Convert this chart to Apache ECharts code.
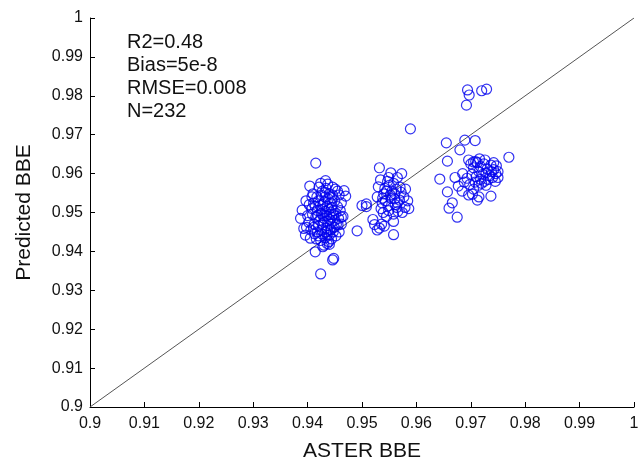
<!DOCTYPE html>
<html>
<head>
<meta charset="utf-8">
<script src="https://cdn.jsdelivr.net/npm/echarts@6/dist/echarts.min.js"></script>
<style>html,body{margin:0;padding:0;background:#fff}#c{width:638px;height:465px}</style>
</head>
<body>
<div id="c"></div>
<script>
// ASTER BBE (x) vs Predicted BBE (y)
var asterBBE = [
0.9415,0.9404,0.9437,0.9451,0.9467,0.9470,0.9410,0.9411,0.9390,0.9387,0.9393,0.9396,0.9405,0.9414,0.9430,0.9436,0.9448,0.9446,0.9424,0.9491,
0.9420,0.9425,0.9432,0.9440,0.9445,0.9428,0.9436,0.9442,0.9450,0.9455,0.9418,0.9425,0.9433,0.9440,0.9447,0.9452,0.9460,0.9415,0.9422,0.9430,
0.9437,0.9444,0.9450,0.9457,0.9412,0.9420,0.9428,0.9435,0.9442,0.9449,0.9456,0.9418,0.9426,0.9433,0.9440,0.9447,0.9416,0.9424,0.9432,0.9439,
0.9406,0.9402,0.9400,0.9408,0.9403,0.9458,0.9462,0.9465,0.9462,0.9458,0.9452,0.9444,0.9427,0.9434,0.9446,0.9421,0.9438,0.9431,0.9427,0.9439,
0.9444,0.9435,0.9430,0.9441,0.9426,0.9437,0.9414,0.9417,0.9409,0.9411,0.9420,0.9436,0.9429,0.9448,0.9453,0.9443,0.9423,0.9446,0.9432,0.9419,
0.9413,0.9398,0.9440,0.9428,0.9455,0.9433,0.9424,0.9408,0.9397,0.9462,
0.9589,0.9532,0.9553,0.9573,0.9534,0.9549,0.9565,0.9530,0.9542,0.9550,0.9558,0.9545,0.9555,0.9563,0.9570,0.9540,0.9552,0.9560,0.9508,0.9508,
0.9538,0.9554,0.9569,0.9584,0.9548,0.9564,0.9579,0.9539,0.9558,0.9574,0.9520,0.9523,0.9532,0.9558,0.9558,0.9545,0.9565,0.9577,0.9586,0.9528,
0.9536,0.9549,0.9566,0.9537,0.9543,0.9560,0.9572,0.9580,0.9500,0.9547,0.9528,0.9561,0.9535,0.9541,
0.9694,0.9697,0.9692,0.9720,0.9729,0.9655,0.9689,0.9708,0.9680,0.9657,0.9770,0.9696,0.9709,0.9643,0.9671,0.9685,0.9677,0.9657,0.9666,0.9660,
0.9675,0.9696,0.9703,0.9712,0.9737,0.9750,0.9747,0.9700,0.9705,0.9712,0.9718,0.9724,0.9730,0.9737,0.9742,0.9746,0.9715,0.9722,0.9728,0.9735,
0.9740,0.9710,0.9718,0.9725,0.9732,0.9702,0.9708,0.9714,0.9720,0.9728,0.9693,0.9698,0.9688,0.9745,0.9738,0.9750,0.9715,0.9705,0.9684,0.9742,
0.9726,0.9716,0.9705
];
var predictedBBE = [
0.9627,0.9568,0.9573,0.9560,0.9556,0.9542,0.9548,0.9524,0.9506,0.9485,0.9459,0.9442,0.9434,0.9399,0.9416,0.9420,0.9382,0.9378,0.9342,0.9453,
0.9530,0.9545,0.9552,0.9548,0.9538,0.9520,0.9515,0.9525,0.9530,0.9515,0.9505,0.9498,0.9502,0.9495,0.9505,0.9498,0.9505,0.9488,0.9480,0.9485,
0.9478,0.9488,0.9480,0.9485,0.9470,0.9465,0.9468,0.9460,0.9470,0.9462,0.9468,0.9450,0.9445,0.9450,0.9442,0.9450,0.9432,0.9428,0.9435,0.9425,
0.9455,0.9475,0.9492,0.9510,0.9520,0.9545,0.9525,0.9490,0.9470,0.9450,0.9440,0.9432,0.9555,0.9562,0.9565,0.9565,0.9535,0.9528,0.9508,0.9508,
0.9512,0.9492,0.9475,0.9482,0.9455,0.9455,0.9515,0.9540,0.9495,0.9462,0.9440,0.9442,0.9492,0.9495,0.9470,0.9455,0.9518,0.9545,0.9540,0.9492,
0.9445,0.9462,0.9418,0.9412,0.9555,0.9582,0.9575,0.9540,0.9530,0.9488,
0.9715,0.9615,0.9602,0.9600,0.9584,0.9590,0.9590,0.9566,0.9562,0.9570,0.9575,0.9555,0.9555,0.9560,0.9565,0.9548,0.9545,0.9548,0.9522,0.9515,
0.9537,0.9536,0.9532,0.9530,0.9517,0.9513,0.9513,0.9500,0.9496,0.9500,0.9482,0.9469,0.9460,0.9477,0.9443,0.9490,0.9525,0.9540,0.9510,0.9455,
0.9470,0.9505,0.9503,0.9525,0.9530,0.9535,0.9552,0.9560,0.9518,0.9580,0.9540,0.9520,0.9510,0.9465,
0.9815,0.9802,0.9776,0.9813,0.9817,0.9679,0.9686,0.9685,0.9661,0.9632,0.9642,0.9635,0.9631,0.9586,0.9590,0.9600,0.9568,0.9553,0.9525,0.9511,
0.9488,0.9545,0.9547,0.9532,0.9542,0.9590,0.9620,0.9625,0.9615,0.9628,0.9618,0.9625,0.9612,0.9622,0.9610,0.9600,0.9605,0.9598,0.9602,0.9595,
0.9590,0.9592,0.9585,0.9580,0.9585,0.9598,0.9578,0.9570,0.9575,0.9570,0.9588,0.9572,0.9578,0.9580,0.9605,0.9605,0.9540,0.9560,0.9555,0.9628,
0.9635,0.9638,0.9630
];
var statLines = ['R2=0.48', 'Bias=5e-8', 'RMSE=0.008', 'N=232'];
var oneToOne = [0.9, 1.0];
var xTitle = 'ASTER BBE';
var yTitle = 'Predicted BBE';

var pts = asterBBE.map(function (x, i) { return [x, predictedBBE[i]]; });
var font = 'Arial, "Liberation Sans", sans-serif';
function fmt(v) { return String(+v.toFixed(2)); }

var chart = echarts.init(document.getElementById('c'), null, { renderer: 'canvas' });
chart.setOption({
  animation: false,
  backgroundColor: '#fff',
  grid: { left: 90, right: 4, top: 18, bottom: 58, containLabel: false, outerBoundsMode: 'none' },
  xAxis: {
    type: 'value', min: 0.9, max: 1.0, interval: 0.01,
    name: xTitle, nameLocation: 'middle', nameGap: 34,
    nameTextStyle: { fontFamily: font, fontSize: 21, color: '#111' },
    axisLine: { lineStyle: { color: '#000', width: 1 } },
    axisTick: { inside: true, length: 5, lineStyle: { color: '#000' } },
    axisLabel: { formatter: fmt, fontFamily: font, fontSize: 16, color: '#111', margin: 9 },
    splitLine: { show: false }
  },
  yAxis: {
    type: 'value', min: 0.9, max: 1.0, interval: 0.01,
    name: yTitle, nameLocation: 'middle', nameGap: 55,
    nameTextStyle: { fontFamily: font, fontSize: 21, color: '#111' },
    axisLine: { show: true, lineStyle: { color: '#000', width: 1 } },
    axisTick: { show: true, inside: true, length: 5, lineStyle: { color: '#000' } },
    axisLabel: { formatter: fmt, fontFamily: font, fontSize: 16, color: '#111', margin: 7 },
    splitLine: { show: false }
  },
  series: [
    {
      type: 'line', data: [[oneToOne[0], oneToOne[0]], [oneToOne[1], oneToOne[1]]],
      symbol: 'none', lineStyle: { color: '#555', width: 1 }, silent: true, z: 1
    },
    {
      type: 'scatter', data: pts, symbol: 'circle', symbolSize: 10,
      itemStyle: { color: 'rgba(0,0,0,0)', borderColor: '#0000ee', borderWidth: 1.2 }, z: 2
    }
  ],
  graphic: statLines.map(function (t, i) {
    return {
      type: 'text', left: 127, top: 32 + i * 23.3,
      style: { text: t, font: '20px ' + font, fill: '#111' }
    };
  })
});
</script>
</body>
</html>
